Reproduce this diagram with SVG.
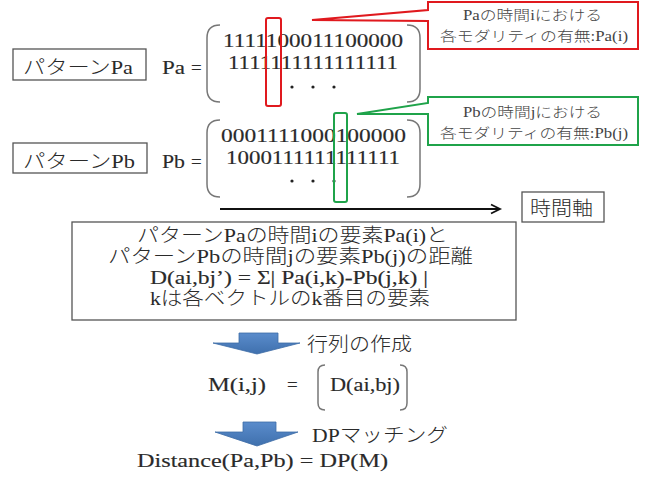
<svg xmlns="http://www.w3.org/2000/svg" width="649" height="479" viewBox="0 0 649 479">
<style>
text{font-family:"Liberation Serif","Noto Sans CJK JP",serif;fill:#2a2a2a;font-weight:300;}
.lbl{font-size:19px;}
.lat{stroke:#2a2a2a;stroke-width:0.15;}
.mx{font-size:18px;stroke:#2a2a2a;stroke-width:0.15;}
.co{font-size:14px;fill:#444;}
.box{fill:#fff;stroke:#555;stroke-width:1.3;}
.br{fill:none;stroke:#777;stroke-width:1.5;}
</style>
<defs>
<linearGradient id="bg" x1="0" y1="0" x2="0" y2="1">
<stop offset="0" stop-color="#5a8ccc"/><stop offset="1" stop-color="#3f70ad"/>
</linearGradient>
</defs>
<rect width="649" height="479" fill="#fff"/>

<g id="patternPa">
<rect class="box" x="13" y="49" width="133" height="31"/>
<text class="lbl" x="23" y="74" textLength="110" lengthAdjust="spacingAndGlyphs">パターンPa</text>
<text class="lbl lat" x="162" y="74" textLength="23" lengthAdjust="spacingAndGlyphs">Pa</text>
<text class="lbl lat" x="191" y="74">=</text>
<path class="br" d="M220 25 Q207 25 207 38 L207 89 Q207 102 220 102"/>
<path class="br" d="M407 25 Q420 25 420 38 L420 89 Q420 102 407 102"/>
<text class="mx" x="223" y="47" textLength="180" lengthAdjust="spacingAndGlyphs">1111100011100000</text>
<text class="mx" x="228" y="69" textLength="170" lengthAdjust="spacingAndGlyphs">1111111111111111</text>
<circle cx="292" cy="87" r="1.6" fill="#222"/><circle cx="313" cy="87" r="1.6" fill="#222"/><circle cx="334" cy="87" r="1.6" fill="#222"/>
<rect x="266" y="18" width="15" height="88" rx="2" fill="none" stroke="#e0191e" stroke-width="2"/>
</g>

<g id="calloutPa">
<path d="M428 10 L428 2 L638 2 L638 49 L428 49 L428 21 L312 20 Z" fill="#fff" stroke="#e0191e" stroke-width="2"/>
<text class="co" x="463" y="20" textLength="139" lengthAdjust="spacingAndGlyphs">Paの時間iにおける</text>
<text class="co" x="440" y="41" textLength="188" lengthAdjust="spacingAndGlyphs">各モダリティの有無:Pa(i)</text>
</g>

<g id="patternPb">
<rect class="box" x="13" y="143" width="134" height="30"/>
<text class="lbl" x="23" y="168" textLength="112" lengthAdjust="spacingAndGlyphs">パターンPb</text>
<text class="lbl lat" x="162" y="168" textLength="23" lengthAdjust="spacingAndGlyphs">Pb</text>
<text class="lbl lat" x="191" y="168">=</text>
<path class="br" d="M220 120 Q207 120 207 133 L207 184 Q207 197 220 197"/>
<path class="br" d="M407 120 Q420 120 420 133 L420 184 Q420 197 407 197"/>
<text class="mx" x="221" y="142" textLength="185" lengthAdjust="spacingAndGlyphs">0001111000100000</text>
<text class="mx" x="226" y="164" textLength="174" lengthAdjust="spacingAndGlyphs">1000111111111111</text>
<circle cx="292" cy="181" r="1.6" fill="#222"/><circle cx="313" cy="181" r="1.6" fill="#222"/><circle cx="334" cy="181" r="1.6" fill="#222"/>
<rect x="334" y="113" width="13" height="89" rx="2" fill="none" stroke="#1fa34a" stroke-width="2"/>
</g>

<g id="calloutPb">
<path d="M428 103 L428 97 L638 97 L638 145 L428 145 L428 114 L357 114 Z" fill="#fff" stroke="#1fa34a" stroke-width="2"/>
<text class="co" x="463" y="117" textLength="139" lengthAdjust="spacingAndGlyphs">Pbの時間jにおける</text>
<text class="co" x="440" y="138" textLength="188" lengthAdjust="spacingAndGlyphs">各モダリティの有無:Pb(j)</text>
</g>

<g id="connectors">
<line x1="220" y1="209" x2="499" y2="209" stroke="#111" stroke-width="2"/>
<path d="M491 204.5 L500 209 L491 213.5" fill="none" stroke="#111" stroke-width="1.8"/>
</g>

<g id="timeAxis">
<rect class="box" x="522" y="192" width="82" height="30"/>
<text class="lbl" x="530" y="215" textLength="63" lengthAdjust="spacingAndGlyphs">時間軸</text>
</g>

<g id="distanceBox">
<rect class="box" x="72" y="222" width="444" height="98"/>
<text class="lbl" x="137" y="242" textLength="311" lengthAdjust="spacingAndGlyphs">パターンPaの時間iの要素Pa(i)と</text>
<text class="lbl" x="108" y="263" textLength="365" lengthAdjust="spacingAndGlyphs">パターンPbの時間jの要素Pb(j)の距離</text>
<text class="lbl lat" x="150" y="284" textLength="278" lengthAdjust="spacingAndGlyphs">D(ai,bj’) = Σ| Pa(i,k)-Pb(j,k) |</text>
<text class="lbl" x="150" y="305" textLength="280" lengthAdjust="spacingAndGlyphs">kは各ベクトルのk番目の要素</text>
</g>

<g id="arrow1">
<path d="M239 333 L278 333 L278 343 L300 343 L257 354 L213 343 L239 343 Z" fill="url(#bg)" stroke="#3d6ca6" stroke-width="0.8"/>
<text class="lbl" x="307" y="351" textLength="105" lengthAdjust="spacingAndGlyphs">行列の作成</text>
</g>

<g id="matrixM">
<text class="lbl lat" x="208" y="391" textLength="58" lengthAdjust="spacingAndGlyphs">M(i,j)</text>
<text class="lbl lat" x="287" y="391">=</text>
<path class="br" d="M325 365 Q318 365 318 372 L318 403 Q318 410 325 410"/>
<path class="br" d="M400 365 Q407 365 407 372 L407 403 Q407 410 400 410"/>
<text class="lbl lat" x="330" y="391" textLength="70" lengthAdjust="spacingAndGlyphs">D(ai,bj)</text>
</g>

<g id="arrow2">
<path d="M243 422 L276 422 L276 432 L298 432 L257 446 L215 432 L243 432 Z" fill="url(#bg)" stroke="#3d6ca6" stroke-width="0.8"/>
<text class="lbl" x="312" y="442" textLength="136" lengthAdjust="spacingAndGlyphs">DPマッチング</text>
</g>

<g id="result">
<text class="lbl lat" x="137" y="467" textLength="251" lengthAdjust="spacingAndGlyphs">Distance(Pa,Pb) = DP(M)</text>
</g>
</svg>
